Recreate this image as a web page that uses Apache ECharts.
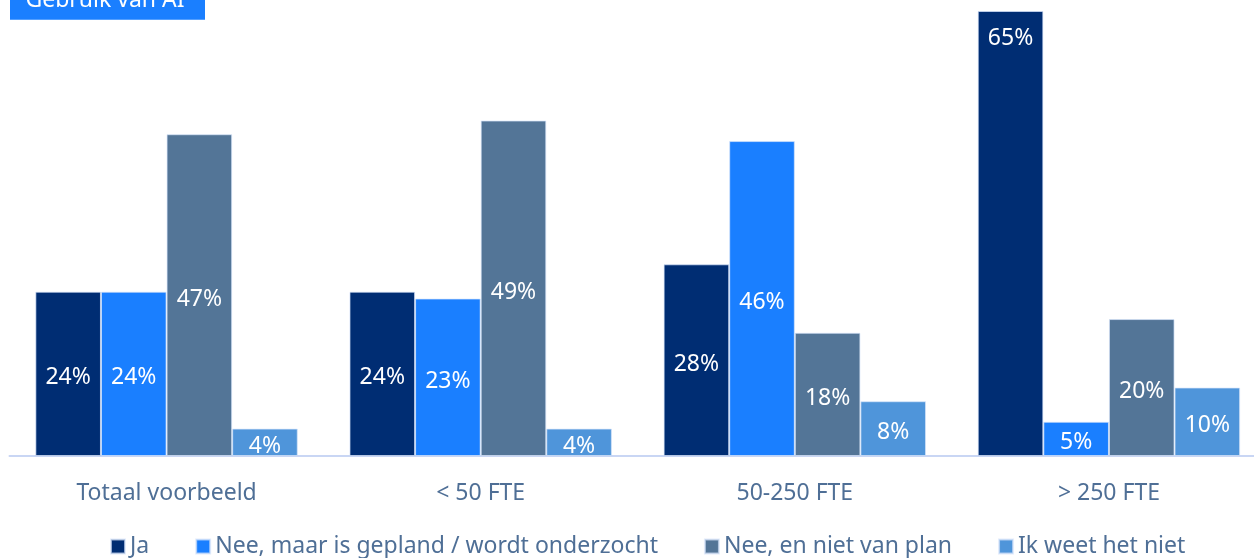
<!DOCTYPE html>
<html>
<head>
<meta charset="utf-8">
<script src="https://cdn.jsdelivr.net/npm/echarts@6/dist/echarts.min.js"></script>
<style>
html,body{margin:0;padding:0;background:#fff;overflow:hidden;width:1254px;height:558px;}
#chart{width:1266px;height:558px;}
</style>
</head>
<body>
<div id="chart"></div>
<script>
const title = 'Gebruik van AI';
const categories = ['Totaal voorbeeld', '< 50 FTE', '50-250 FTE', '> 250 FTE'];
const seriesNames = ['Ja', 'Nee, maar is gepland / wordt onderzocht', 'Nee, en niet van plan', 'Ik weet het niet'];
const ja = [24, 24, 28, 65];
const neeGepland = [24, 23, 46, 5];
const neeNietPlan = [47, 49, 18, 20];
const weetNiet = [4, 4, 8, 10];
const values = [ja, neeGepland, neeNietPlan, weetNiet];
const colors = ['#002D73', '#1A7FFF', '#537597', '#4F95DA'];

const FONT = 'Noto Sans';
const chart = echarts.init(document.getElementById('chart'), null, {renderer: 'canvas'});

const series = values.map((vals, si) => ({
  name: seriesNames[si],
  type: 'bar',
  barWidth: 65.6,
  barGap: '0%',
  itemStyle: {color: colors[si], borderColor: 'rgba(215,228,250,0.7)', borderWidth: 1},
  label: {
    show: true, position: 'inside', offset: [0, 4], color: '#fff', fontFamily: FONT, fontSize: 23,
    formatter: p => p.value + '%'
  },
  data: vals.map((v, j) => (si === 0 && j === 3)
    ? {value: v, label: {position: 'insideTop', distance: 12}}
    : v),
  animation: false
}));

chart.setOption({
  animation: false,
  backgroundColor: '#fff',
  textStyle: {fontFamily: FONT},
  graphic: [
    {type: 'rect', shape: {x: 10, y: -30, width: 195, height: 49.7}, style: {fill: '#1A7FFF'}, z: 10},
    {type: 'text', x: 105, y: 12, style: {text: title, fill: '#fff', font: '23px "Noto Sans"', textAlign: 'center', textVerticalAlign: 'bottom'}, z: 11}
  ],
  grid: {left: 9.5, top: 11, right: 0, bottom: 102, containLabel: false},
  xAxis: {
    type: 'category', data: categories,
    axisLine: {show: true, lineStyle: {color: '#C9D6F4', width: 2}},
    axisTick: {show: false},
    axisLabel: {color: '#4F6F96', fontSize: 23, fontFamily: FONT, margin: 26}
  },
  yAxis: {type: 'value', min: 0, max: 65, show: false, splitLine: {show: false}},
  legend: {
    data: seriesNames, left: 110, top: 535, padding: 0, icon: 'rect', itemWidth: 14, itemHeight: 14, itemGap: 46,
    textStyle: {color: '#4F6F96', fontSize: 23, fontFamily: FONT}
  },
  series: series
});
</script>
</body>
</html>
